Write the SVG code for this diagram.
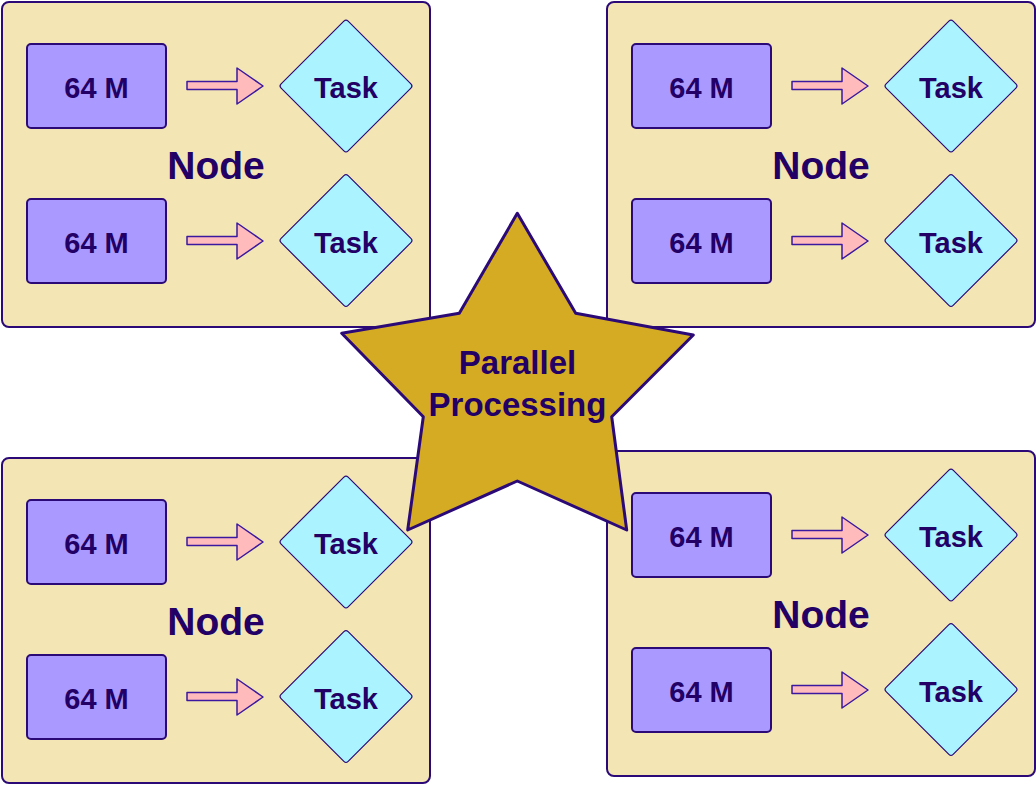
<svg xmlns="http://www.w3.org/2000/svg" width="1036" height="785" viewBox="0 0 1036 785">
<defs>
<style>
.cont{fill:#F4E6B4;stroke:#2B0A78;stroke-width:2}
.mem{fill:#AA99FF;stroke:#2B0A78;stroke-width:2}
.task{fill:#AAF3FF;stroke:#2B0A78;stroke-width:1.2}
.arr{fill:#FFBBBB;stroke:#3A18A0;stroke-width:1.5;stroke-linejoin:round}
.star{fill:#D6AB24;stroke:#2B0A78;stroke-width:3;stroke-linejoin:round}
text{font-family:"Liberation Sans",Arial,sans-serif;font-weight:bold;fill:#220066;text-anchor:middle}
.t{font-size:29px}
.n{font-size:39px}
.s{font-size:33px}
</style>
<rect id="dia" x="-47.4" y="-47.4" width="94.8" height="94.8" rx="3"/>
<path id="arrow" d="M187,81.5 L237,81.5 L237,68 L263,86 L237,104 L237,89.5 L187,89.5 Z"/>
</defs>
<rect width="1036" height="785" fill="#FFFFFF"/>

<g id="node-top-left">
<rect class="cont" x="2" y="2" width="428" height="325" rx="7"/>
<text class="n" x="216" y="179">Node</text>
<g id="mem-tl-1"><rect class="mem" x="27" y="44" width="139" height="84" rx="4"/><text class="t" x="96.5" y="98">64 M</text></g>
<g id="mem-tl-2"><rect class="mem" x="27" y="199" width="139" height="84" rx="4"/><text class="t" x="96.5" y="253">64 M</text></g>
<g id="task-tl-1"><use href="#dia" class="task" transform="translate(346,86) rotate(45)"/><text class="t" x="346" y="98">Task</text></g>
<g id="task-tl-2"><use href="#dia" class="task" transform="translate(346,240.5) rotate(45)"/><text class="t" x="346" y="253">Task</text></g>
</g>

<g id="node-top-right" transform="translate(605,0)">
<rect class="cont" x="2" y="2" width="428" height="325" rx="7"/>
<text class="n" x="216" y="179">Node</text>
<g id="mem-tr-1"><rect class="mem" x="27" y="44" width="139" height="84" rx="4"/><text class="t" x="96.5" y="98">64 M</text></g>
<g id="mem-tr-2"><rect class="mem" x="27" y="199" width="139" height="84" rx="4"/><text class="t" x="96.5" y="253">64 M</text></g>
<g id="task-tr-1"><use href="#dia" class="task" transform="translate(346,86) rotate(45)"/><text class="t" x="346" y="98">Task</text></g>
<g id="task-tr-2"><use href="#dia" class="task" transform="translate(346,240.5) rotate(45)"/><text class="t" x="346" y="253">Task</text></g>
</g>

<g id="node-bottom-left" transform="translate(0,456)">
<rect class="cont" x="2" y="2" width="428" height="325" rx="7"/>
<text class="n" x="216" y="179">Node</text>
<g id="mem-bl-1"><rect class="mem" x="27" y="44" width="139" height="84" rx="4"/><text class="t" x="96.5" y="98">64 M</text></g>
<g id="mem-bl-2"><rect class="mem" x="27" y="199" width="139" height="84" rx="4"/><text class="t" x="96.5" y="253">64 M</text></g>
<g id="task-bl-1"><use href="#dia" class="task" transform="translate(346,86) rotate(45)"/><text class="t" x="346" y="98">Task</text></g>
<g id="task-bl-2"><use href="#dia" class="task" transform="translate(346,240.5) rotate(45)"/><text class="t" x="346" y="253">Task</text></g>
</g>

<g id="node-bottom-right" transform="translate(605,449)">
<rect class="cont" x="2" y="2" width="428" height="325" rx="7"/>
<text class="n" x="216" y="179">Node</text>
<g id="mem-br-1"><rect class="mem" x="27" y="44" width="139" height="84" rx="4"/><text class="t" x="96.5" y="98">64 M</text></g>
<g id="mem-br-2"><rect class="mem" x="27" y="199" width="139" height="84" rx="4"/><text class="t" x="96.5" y="253">64 M</text></g>
<g id="task-br-1"><use href="#dia" class="task" transform="translate(346,86) rotate(45)"/><text class="t" x="346" y="98">Task</text></g>
<g id="task-br-2"><use href="#dia" class="task" transform="translate(346,240.5) rotate(45)"/><text class="t" x="346" y="253">Task</text></g>
</g>

<g id="connectors">
<use href="#arrow" class="arr"/>
<use href="#arrow" class="arr" transform="translate(0,155)"/>
<use href="#arrow" class="arr" transform="translate(605,0)"/>
<use href="#arrow" class="arr" transform="translate(605,155)"/>
<use href="#arrow" class="arr" transform="translate(0,456)"/>
<use href="#arrow" class="arr" transform="translate(0,611)"/>
<use href="#arrow" class="arr" transform="translate(605,449)"/>
<use href="#arrow" class="arr" transform="translate(605,604)"/>
</g>

<g id="star">
<path class="star" d="M517.3,213.3 L575.7,313.3 L693.3,335 L611.7,416.7 L626.7,530 L517.3,481 L407.7,530 L423.3,416.7 L341.7,333.3 L459.3,313.3 Z"/>
<text class="s" x="517.5" y="374">Parallel</text>
<text class="s" x="517.5" y="416">Processing</text>
</g>
</svg>
